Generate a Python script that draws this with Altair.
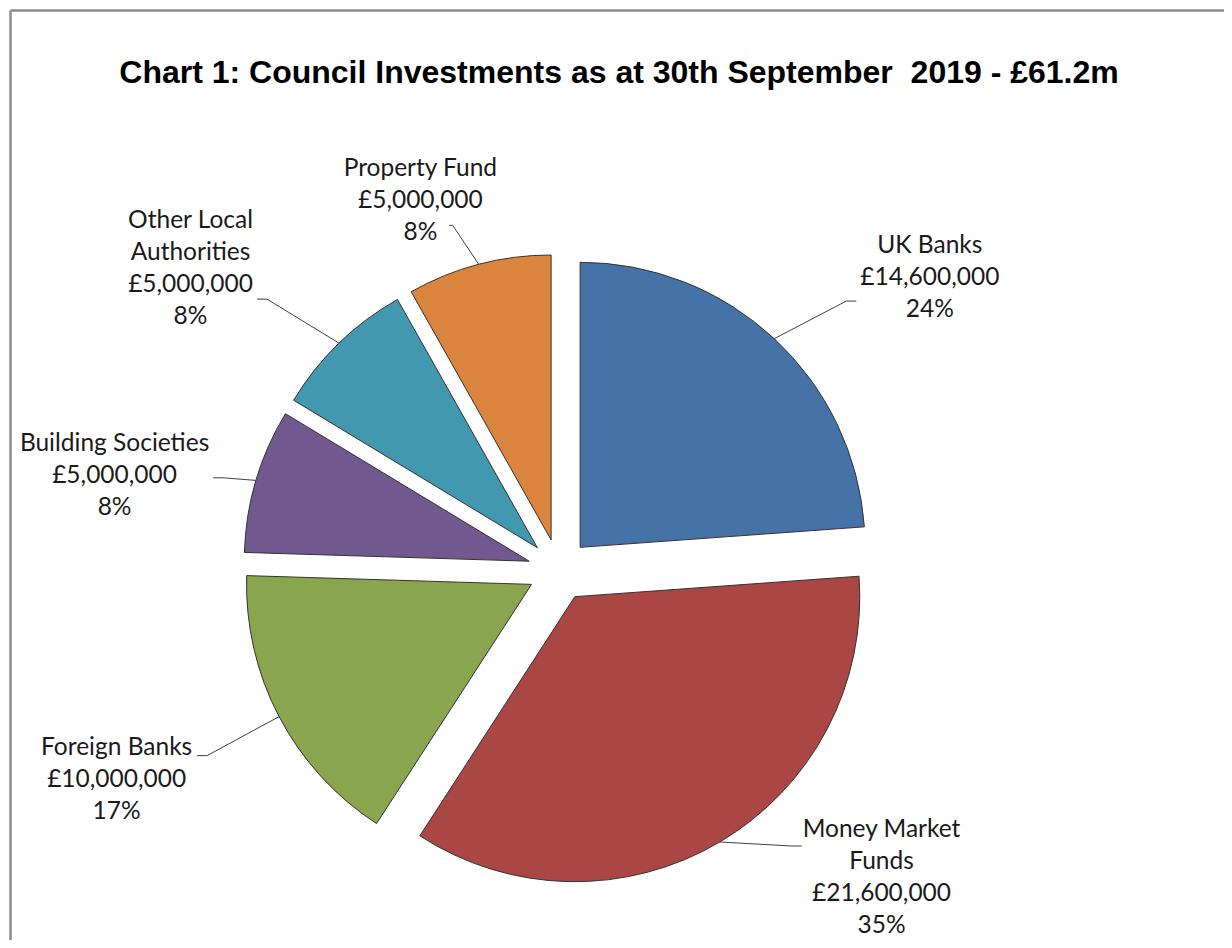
import math
import altair as alt
import pandas as pd

# ---- data ----
categories = ["UK Banks", "Money Market Funds", "Foreign Banks",
              "Building Societies", "Other Local Authorities", "Property Fund"]
amounts = [14600000, 21600000, 10000000, 5000000, 5000000, 5000000]
pct_labels = ["24%", "35%", "17%", "8%", "8%", "8%"]
name_lines = [["UK Banks"], ["Money Market", "Funds"], ["Foreign Banks"],
              ["Building Societies"], ["Other Local", "Authorities"], ["Property Fund"]]
colors = ["#4572A7", "#AA4643", "#89A54E", "#71588F", "#4198AF", "#DB843D"]
title_text = "Chart 1: Council Investments as at 30th September  2019 - £61.2m"

# ---- layout / style ----
W, H = 1216, 932          # view size
CX, CY = 551, 562         # pie centre inside the view
R = 285                   # pie radius
EXPLODE = 31              # slice explosion distance
GX, GY = 86, 15           # label gap from arc point
TAIL = 10
LH = 32                   # label line height
LABEL_FONT = "Lato"
LABEL_SIZE = 24.5
XMIN, XMAX = 12 - CX, 1207 - CX       # label limits (x right-positive)
YMIN, YMAX = CY - 934, CY - 122       # label limits (y up-positive)


def est_width(s):
    """rough text width estimate (px) for the label font"""
    w = 0.0
    for ch in s:
        if ch.isdigit() or ch == "£":
            w += 0.58
        elif ch in ",.":
            w += 0.23
        elif ch == "%":
            w += 0.8
        elif ch == " ":
            w += 0.26
        elif ch in "il":
            w += 0.24
        elif ch in "tfrj":
            w += 0.34
        elif ch in "mwMW":
            w += 0.8
        elif ch.isupper():
            w += 0.62
        else:
            w += 0.52
    return w * LABEL_SIZE


rows = []
for i, (c, a, p, nl) in enumerate(zip(categories, amounts, pct_labels, name_lines)):
    lines = nl + ["£{:,}".format(a), p]
    rows.append({"order": i, "category": c, "amount": a,
                 "label": "\n".join(lines),
                 "nlines": len(lines),
                 "hh": len(lines) * LH / 2,
                 "hw": max(est_width(s) for s in lines) / 2})
df = pd.DataFrame(rows)

xs = alt.Scale(domain=[-CX, W - CX], range=[0, W], nice=False, zero=False)
ys = alt.Scale(domain=[-(H - CY), CY], nice=False, zero=False)

base = (
    alt.Chart(df)
    .transform_joinaggregate(total="sum(amount)")
    .transform_window(cum="sum(amount)", sort=[alt.SortField("order")], frame=[None, 0])
    .transform_calculate(
        f0="(datum.cum - datum.amount) / datum.total",
        f1="datum.cum / datum.total",
        mid="2 * PI * (datum.cum - datum.amount / 2) / datum.total",
    )
    .transform_calculate(
        s="sin(datum.mid)",
        c="cos(datum.mid)",
    )
    .transform_calculate(
        ex=f"{EXPLODE} * datum.s",
        ey=f"{EXPLODE} * datum.c",
        side="datum.s >= 0 ? 1 : -1",
        kx="pow(min(1, abs(datum.s) * 2), 1.5)",
        sy="clamp(2 * (datum.c - 0.25), -1, 1)",
    )
    .transform_calculate(
        ax=f"datum.ex + {R} * datum.s",
        ay=f"datum.ey + {R} * datum.c",
    )
    .transform_calculate(
        bx=f"datum.ax + datum.side * datum.kx * (datum.hw + {GX})",
        by=f"datum.ay + datum.sy * (datum.hh + {GY})",
    )
    .transform_calculate(
        bxc=f"clamp(datum.bx, {XMIN} + datum.hw, {XMAX} - datum.hw)",
        byc=f"clamp(datum.by, {YMIN} + datum.hh, {YMAX} - datum.hh)",
    )
    .transform_calculate(
        # Vega puts the first line at y for multi-line text with baseline middle
        ty=f"datum.byc + (datum.nlines - 1) * {LH} / 2",
        aty="datum.byc - datum.sy * datum.hh * 0.5",
        lex=f"datum.bxc - datum.side * datum.kx * (datum.hw + {TAIL} + 4)",
        tex="datum.bxc - datum.side * datum.kx * (datum.hw + 4)",
    )
)

arcs = base.mark_arc(radius=R, stroke="#333333", strokeWidth=1).encode(
    x=alt.X("ex:Q", scale=xs, axis=None),
    y=alt.Y("ey:Q", scale=ys, axis=None),
    theta=alt.Theta("f0:Q", scale=alt.Scale(domain=[0, 1], range=[0, 2 * math.pi]), stack=None),
    theta2=alt.Theta2("f1:Q"),
    color=alt.Color("category:N", scale=alt.Scale(domain=categories, range=colors), legend=None),
    order=alt.Order("order:Q"),
)

leaders = base.mark_rule(color="#404040", strokeWidth=1).encode(
    x=alt.X("ax:Q", scale=xs, axis=None),
    y=alt.Y("ay:Q", scale=ys, axis=None),
    x2="lex:Q",
    y2="aty:Q",
)

tails = base.mark_rule(color="#404040", strokeWidth=1).encode(
    x=alt.X("lex:Q", scale=xs, axis=None),
    y=alt.Y("aty:Q", scale=ys, axis=None),
    x2="tex:Q",
)

labels = base.mark_text(
    font=LABEL_FONT, fontSize=LABEL_SIZE, lineHeight=LH, lineBreak="\n",
    align="center", baseline="middle", color="#1a1a1a",
).encode(
    x=alt.X("bxc:Q", scale=xs, axis=None),
    y=alt.Y("ty:Q", scale=ys, axis=None),
    text="label:N",
)

frame_df = pd.DataFrame({"k": [0]})
frame_left = alt.Chart(frame_df).mark_rule(color="#8c8c8c", strokeWidth=2.5).encode(
    x=alt.value(2.5), y=alt.value(2.5), y2=alt.value(H))
frame_top = alt.Chart(frame_df).mark_rule(color="#8c8c8c", strokeWidth=2.5).encode(
    x=alt.value(2.5), x2=alt.value(W), y=alt.value(2.5))

# keep the double space of the original title visible in SVG
title_shown = title_text.replace("  ", " \u00a0")
title = alt.Chart(pd.DataFrame({"t": [title_shown]})).mark_text(
    font="Liberation Sans", fontWeight="bold", fontSize=32,
    align="center", baseline="alphabetic", color="#000000",
).encode(x=alt.value(611), y=alt.value(75), text="t:N")

chart = (
    alt.layer(frame_left, frame_top, arcs, leaders, tails, labels, title)
    .properties(width=W, height=H, autosize=alt.AutoSizeParams(type="none"), padding=0)
    .configure_view(stroke=None)
)

chart.save("out.html", embed_options={"renderer": "svg", "actions": False})
